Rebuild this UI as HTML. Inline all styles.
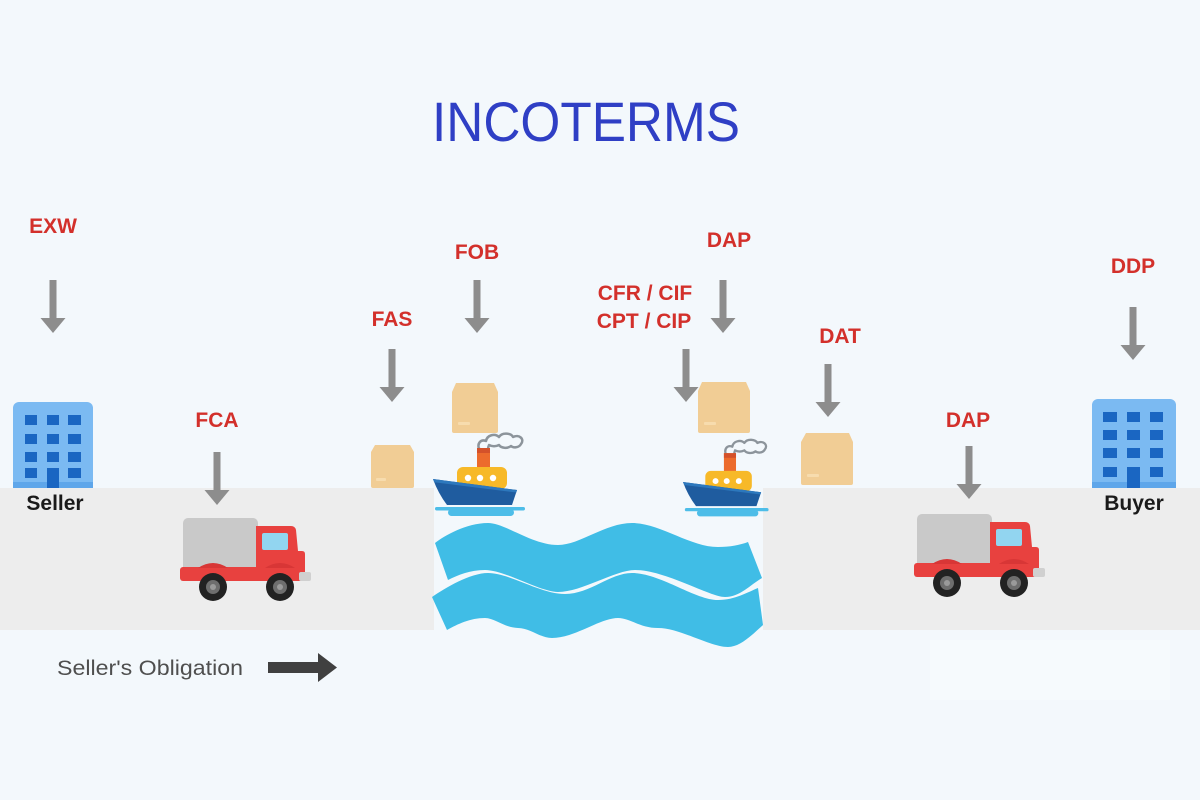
<!DOCTYPE html>
<html>
<head>
<meta charset="utf-8">
<style>
  html,body{margin:0;padding:0;background:#f3f8fc;}
  svg{display:block;}
  .lbl{font-family:"Liberation Sans",Arial,sans-serif;font-weight:bold;font-size:21px;fill:#d3302b;text-anchor:middle;}
  .nm{font-family:"Liberation Sans",Arial,sans-serif;font-weight:bold;font-size:21px;fill:#1a1a1a;text-anchor:middle;}
</style>
</head>
<body>
<svg width="1200" height="800" viewBox="0 0 1200 800" xmlns="http://www.w3.org/2000/svg">
  <defs>
    <g id="arr">
      <rect x="-3.5" y="0" width="7" height="39" fill="#8d8d8d"/>
      <polygon points="-12.5,38 12.5,38 0,53" fill="#8d8d8d"/>
    </g>
    <g id="truck">
      <rect x="3" y="0" width="75" height="54" rx="5" fill="#c9c9c9"/>
      <path d="M76,8 L111,8 Q115,8 116,12 L118,33 L122,33 Q125,33 125,36 L125,54 L76,54 Z" fill="#e8413f"/>
      <rect x="82" y="15" width="26" height="17" rx="2" fill="#92d5f0"/>
      <rect x="0" y="49" width="123" height="14" rx="3" fill="#e8413f"/>
      <path d="M18,50 Q33,40 48,50 Z" fill="#d83636"/>
      <path d="M85,50 Q100,40 115,50 Z" fill="#d83636"/>
      <rect x="119" y="54" width="12" height="9" rx="2" fill="#d0d0d0"/>
      <circle cx="33" cy="69" r="14" fill="#222"/>
      <circle cx="33" cy="69" r="7" fill="#6e6e6e"/>
      <circle cx="33" cy="69" r="3" fill="#9a9a9a"/>
      <circle cx="100" cy="69" r="14" fill="#222"/>
      <circle cx="100" cy="69" r="7" fill="#6e6e6e"/>
      <circle cx="100" cy="69" r="3" fill="#9a9a9a"/>
    </g>
    <g id="ship">
      <path d="M46,-30 C44,-36 48,-40 53,-38 C54,-44 62,-46 66,-42 C69,-47 78,-46 80,-42 C86,-45 92,-40 88,-35 C86,-31 80,-31 78,-33 C74,-30 68,-31 66,-34 C62,-32 58,-33 56,-34 C55,-32 55,-30 55,-29 Z" fill="#f3f8fc" stroke="#8c949b" stroke-width="2.5" stroke-linejoin="round"/>
      <rect x="44" y="-31" width="13" height="24" fill="#ec6b2d"/>
      <rect x="44" y="-31" width="13" height="5" fill="#d4512a"/>
      <rect x="24" y="-12" width="50" height="22" rx="6" fill="#f7b928"/>
      <circle cx="35" cy="-1" r="3.2" fill="#fff"/>
      <circle cx="47" cy="-1" r="3.2" fill="#fff"/>
      <circle cx="60" cy="-1" r="3.2" fill="#fff"/>
      <path d="M0,0 L84,11 L79,26 L14,26 Q5,14 0,0 Z" fill="#1f5c9f"/>
      <path d="M0,0 L84,11 L83.3,13.5 L1.2,3.2 Z" fill="#2d78bd"/>
      <rect x="2" y="28" width="90" height="3.5" rx="1.7" fill="#4dbde8"/>
      <rect x="15" y="30" width="66" height="7" rx="3.5" fill="#4dbde8"/>
    </g>
  </defs>

  <rect width="1200" height="800" fill="#f3f8fc"/>

  <rect x="0" y="488" width="434" height="142" fill="#ededed"/>
  <rect x="763" y="488" width="437" height="142" fill="#ededed"/>
  <rect x="930" y="640" width="240" height="60" fill="#f6fafd"/>

  <text x="586" y="141" font-family="'Liberation Sans',Arial,sans-serif" font-size="56" fill="#2f3fc5" text-anchor="middle" textLength="308" lengthAdjust="spacingAndGlyphs">INCOTERMS</text>

  <text class="lbl" x="53" y="233">EXW</text>
  <text class="lbl" x="477" y="259">FOB</text>
  <text class="lbl" x="392" y="326">FAS</text>
  <text class="lbl" x="217" y="427">FCA</text>
  <text class="lbl" x="729" y="247">DAP</text>
  <text class="lbl" x="645" y="300">CFR / CIF</text>
  <text class="lbl" x="644" y="328">CPT / CIP</text>
  <text class="lbl" x="840" y="343">DAT</text>
  <text class="lbl" x="968" y="427">DAP</text>
  <text class="lbl" x="1133" y="273">DDP</text>

  <use href="#arr" x="53" y="280"/>
  <use href="#arr" x="217" y="452"/>
  <use href="#arr" x="392" y="349"/>
  <use href="#arr" x="477" y="280"/>
  <use href="#arr" x="686" y="349"/>
  <use href="#arr" x="723" y="280"/>
  <use href="#arr" x="828" y="364"/>
  <use href="#arr" x="969" y="446"/>
  <use href="#arr" x="1133" y="307"/>

  <g>
    <rect x="13" y="402" width="80" height="86" rx="6" fill="#7bbaf2"/>
    <rect x="13" y="482" width="80" height="6" fill="#5ea6ea"/>
    <g fill="#1a66c2">
      <rect x="25" y="415" width="12" height="10"/><rect x="47" y="415" width="12" height="10"/><rect x="68" y="415" width="13" height="10"/>
      <rect x="25" y="434" width="12" height="10"/><rect x="47" y="434" width="12" height="10"/><rect x="68" y="434" width="13" height="10"/>
      <rect x="25" y="452" width="12" height="10"/><rect x="47" y="452" width="12" height="10"/><rect x="68" y="452" width="13" height="10"/>
      <rect x="25" y="468" width="12" height="10"/><rect x="47" y="468" width="12" height="20"/><rect x="68" y="468" width="13" height="10"/>
    </g>
  </g>
  <text class="nm" x="55" y="510">Seller</text>

  <g>
    <rect x="1092" y="399" width="84" height="89" rx="6" fill="#7bbaf2"/>
    <rect x="1092" y="482" width="84" height="6" fill="#5ea6ea"/>
    <g fill="#1a66c2">
      <rect x="1103" y="412" width="14" height="10"/><rect x="1127" y="412" width="13" height="10"/><rect x="1150" y="412" width="13" height="10"/>
      <rect x="1103" y="430" width="14" height="10"/><rect x="1127" y="430" width="13" height="10"/><rect x="1150" y="430" width="13" height="10"/>
      <rect x="1103" y="448" width="14" height="10"/><rect x="1127" y="448" width="13" height="10"/><rect x="1150" y="448" width="13" height="10"/>
      <rect x="1103" y="467" width="14" height="10"/><rect x="1127" y="467" width="13" height="21"/><rect x="1150" y="467" width="13" height="10"/>
    </g>
  </g>
  <text class="nm" x="1134" y="510">Buyer</text>

  <g fill="#f1cd95">
    <path d="M375,445 L410,445 L414,452 L414,486 Q414,488 412,488 L373,488 Q371,488 371,486 L371,452 Z"/>
    <path d="M456,383 L494,383 L498,392 L498,431 Q498,433 496,433 L454,433 Q452,433 452,431 L452,392 Z"/>
    <path d="M702,382 L746,382 L750,391 L750,431 Q750,433 748,433 L700,433 Q698,433 698,431 L698,391 Z"/>
    <path d="M806,433 L849,433 L853,442 L853,483 Q853,485 851,485 L803,485 Q801,485 801,483 L801,442 Z"/>
  </g>
  <g fill="#f7dcae">
    <rect x="376" y="478" width="10" height="3" rx="1"/>
    <rect x="458" y="422" width="12" height="3" rx="1"/>
    <rect x="704" y="422" width="12" height="3" rx="1"/>
    <rect x="807" y="474" width="12" height="3" rx="1"/>
  </g>

  <use href="#ship" transform="translate(433,479)"/>
  <use href="#ship" transform="translate(683,482) scale(0.93)"/>

  <path d="M435,543 C444,536 466,523 488,523 C505,523 532,545 558,545 C580,545 605,523 632,523 C660,523 690,547 718,547 C730,547 740,545 748,542 L762,578 C750,585 740,597 725,597 C710,597 665,570 635,570 C615,570 582,592 558,592 C540,592 505,570 485,570 C470,570 458,575 448,580 Z" fill="#40bde6"/>
  <path d="M432,597 C445,588 470,573 488,573 C510,573 540,594 565,594 C590,594 610,573 632,573 C660,573 695,600 718,600 C735,600 748,592 758,588 L763,625 C752,635 740,647 728,647 C710,647 680,628 658,628 C640,628 630,618 618,618 C600,618 575,638 552,638 C540,638 530,628 518,628 C505,628 495,618 485,618 C470,618 458,624 447,630 Z" fill="#40bde6"/>

  <use href="#truck" transform="translate(180,518)"/>
  <use href="#truck" transform="translate(914,514)"/>

  <text x="57" y="675" font-family="'Liberation Sans',Arial,sans-serif" font-size="21" fill="#4f4f4f" textLength="186" lengthAdjust="spacingAndGlyphs">Seller's Obligation</text>
  <rect x="268" y="662" width="52" height="11" fill="#404040"/>
  <polygon points="318,653 337,667.5 318,682" fill="#404040"/>
</svg>
</body>
</html>
